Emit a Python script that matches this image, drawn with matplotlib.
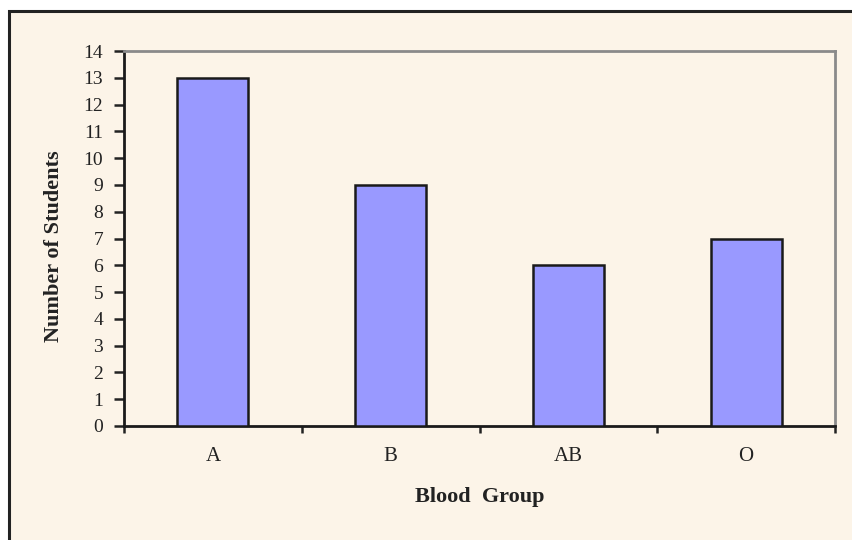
import matplotlib.pyplot as plt
from matplotlib.patches import Rectangle

# Blood group counts
groups = ['A', 'B', 'AB', 'O']
students = [13, 9, 6, 7]
y_ticks = list(range(0, 15))

bg = '#FCF4E8'
W, H = 852, 540

plt.rcParams['font.family'] = ['Liberation Serif', 'DejaVu Serif']

fig = plt.figure(figsize=(W / 100, H / 100), dpi=100, facecolor='white')

# outer frame round the chart, runs off the right and bottom edges
frame = Rectangle((8.5 / W, -0.05), 1.1, 1 - 10.5 / H + 0.05,
                  transform=fig.transFigure, facecolor=bg,
                  edgecolor='#222222', linewidth=2.2, zorder=-10)
fig.patches.append(frame)

ax = fig.add_axes([124 / W, 1 - 426 / H, (835 - 124) / W, (426 - 51) / H])
ax.set_facecolor(bg)

x = range(len(groups))
ax.bar(x, students, width=0.4, color='#9999FF', edgecolor='#1a1a1a',
       linewidth=1.8, zorder=3)

ax.set_xlim(-0.5, len(groups) - 0.5)
ax.set_ylim(0, 14)
ax.set_yticks(y_ticks)
ax.set_xticks(list(x))
ax.set_xticklabels(groups)
ax.set_xticks([i - 0.5 for i in range(len(groups) + 1)], minor=True)

ax.tick_params(axis='x', which='major', length=0, pad=15, labelsize=15,
               colors='#222222')
ax.tick_params(axis='x', which='minor', length=5, width=1.8, direction='out',
               color='#222222')
ax.tick_params(axis='y', length=7, width=1.8, direction='out', labelsize=14,
               pad=8, color='#222222', labelcolor='#222222')

for side in ['left', 'bottom']:
    ax.spines[side].set_color('#1a1a1a')
    ax.spines[side].set_linewidth(2)
for side in ['top', 'right']:
    ax.spines[side].set_color('#8a8a8a')
    ax.spines[side].set_linewidth(2)

ax.set_ylabel('Number of Students', fontsize=16, fontweight='bold',
              color='#222222', labelpad=14)
ax.yaxis.label.set_y(0.48)  # sits a little below centre in the original
ax.set_xlabel('Blood  Group', fontsize=16, fontweight='bold',
              color='#222222', labelpad=15)

fig.savefig('out.png', dpi=100, facecolor='white')
